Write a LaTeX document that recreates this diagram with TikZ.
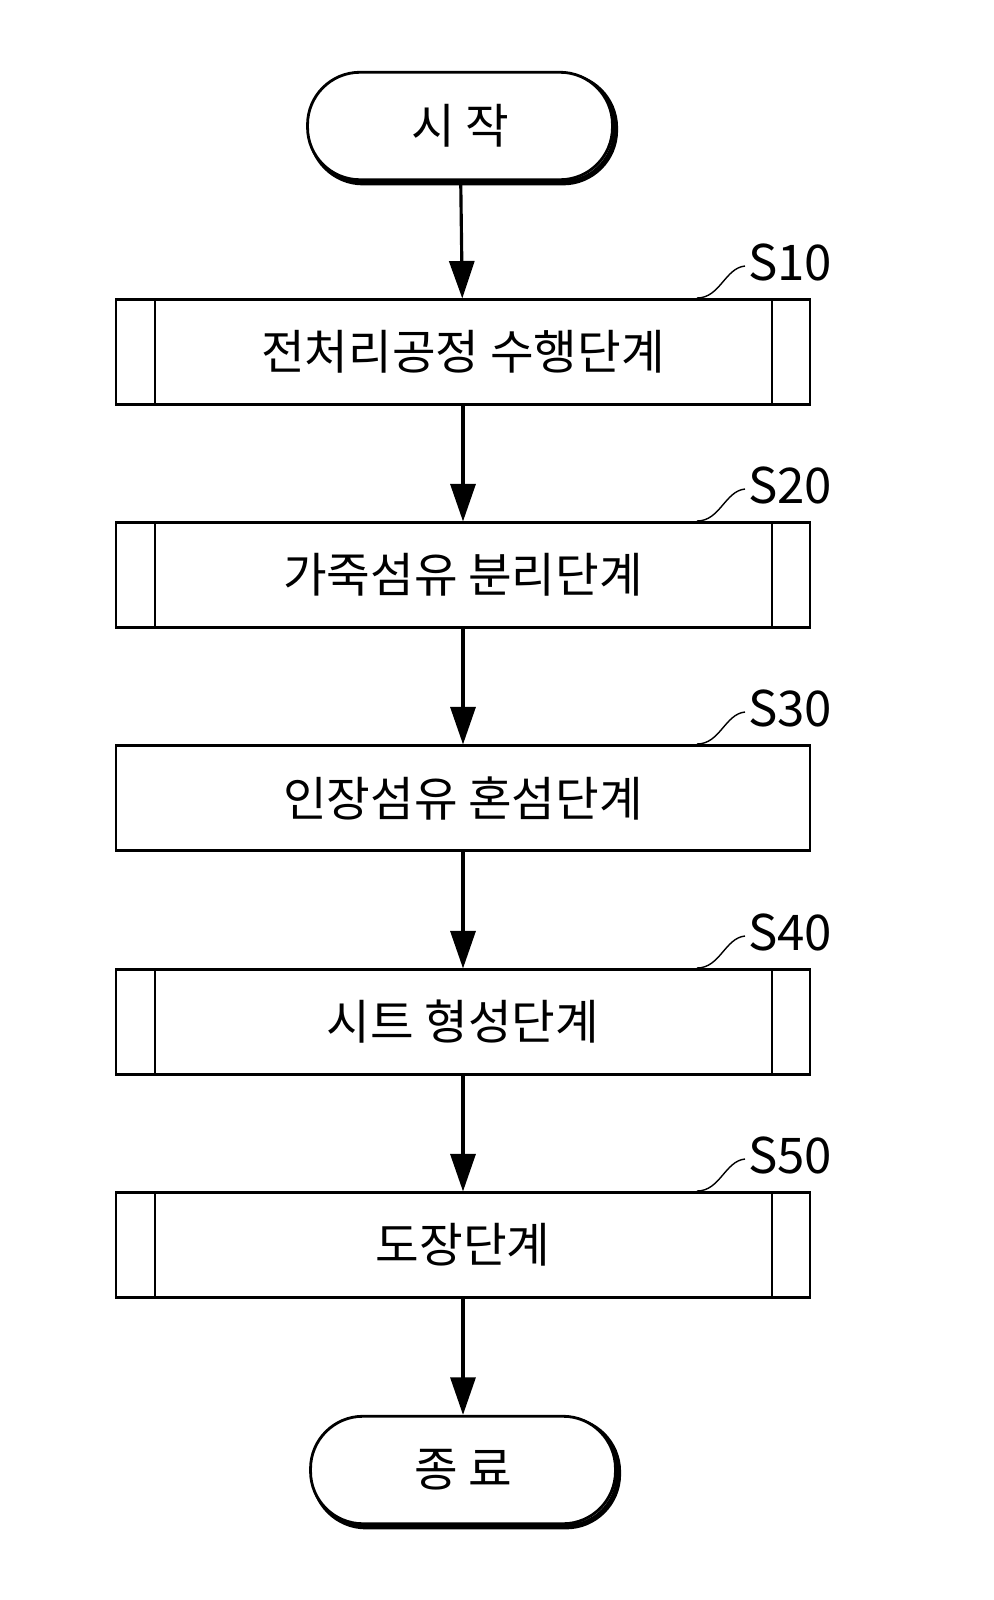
\documentclass[tikz,border=0pt]{standalone}
\usepackage{fontspec}
\setmainfont{Noto Sans CJK KR}
\usetikzlibrary{arrows.meta}
\begin{document}
\begin{tikzpicture}[x=0.02cm,y=-0.02cm,
  term/.style={draw,line width=1.6pt,rounded corners=1.05cm,minimum width=6.1cm,minimum height=2.15cm,font=\fontsize{27}{30}\selectfont,inner sep=0},
  stepbox/.style={draw,line width=1.2pt,minimum width=13.88cm,minimum height=2.1cm,font=\fontsize{27}{30}\selectfont,inner sep=0},
  arr/.style={line width=1.8pt,-{Triangle[length=0.75cm,width=0.5cm]}},
  lab/.style={font=\fontsize{28}{30}\selectfont,anchor=west,inner sep=0},
  lead/.style={line width=0.8pt}]
\node[term,draw=black,line width=3pt,xshift=0.06cm,yshift=-0.06cm] at (460,126) {};
\node[term,fill=white] (start) at (460,126) {시 작};
\node[term,draw=black,line width=3pt,xshift=0.06cm,yshift=-0.06cm] at (463,1470) {};
\node[term,fill=white] (end) at (463,1470) {종 료};
\foreach \n/\y/\t/\s/\ib in {a/352/전처리공정 수행단계/S10/1, b/575/가죽섬유 분리단계/S20/1, c/798/인장섬유 혼섬단계/S30/0, d/1022/시트 형성단계/S40/1, e/1245/도장단계/S50/1}{
  \node[stepbox] (\n) at (463,\y) {\t};
  \ifnum\ib=1
    \draw[line width=1.2pt] ([xshift=0.8cm]\n.north west) -- ([xshift=0.8cm]\n.south west);
    \draw[line width=1.2pt] ([xshift=-0.78cm]\n.north east) -- ([xshift=-0.78cm]\n.south east);
  \fi
  \coordinate (\n l) at (697,\y-54);
  \node[lab] (\n s) at (748,\y-90) {\s};
  \draw[lead] (\n l) .. controls (720,\y-54) and (725,\y-84) .. (745,\y-86);
}
\draw[arr] (start) -- (a);
\draw[arr] (a) -- (b);
\draw[arr] (b) -- (c);
\draw[arr] (c) -- (d);
\draw[arr] (d) -- (e);
\draw[arr] (e) -- (end);
\pgfresetboundingbox
\useasboundingbox (0,0) rectangle (994,1600);
\end{tikzpicture}
\end{document}
